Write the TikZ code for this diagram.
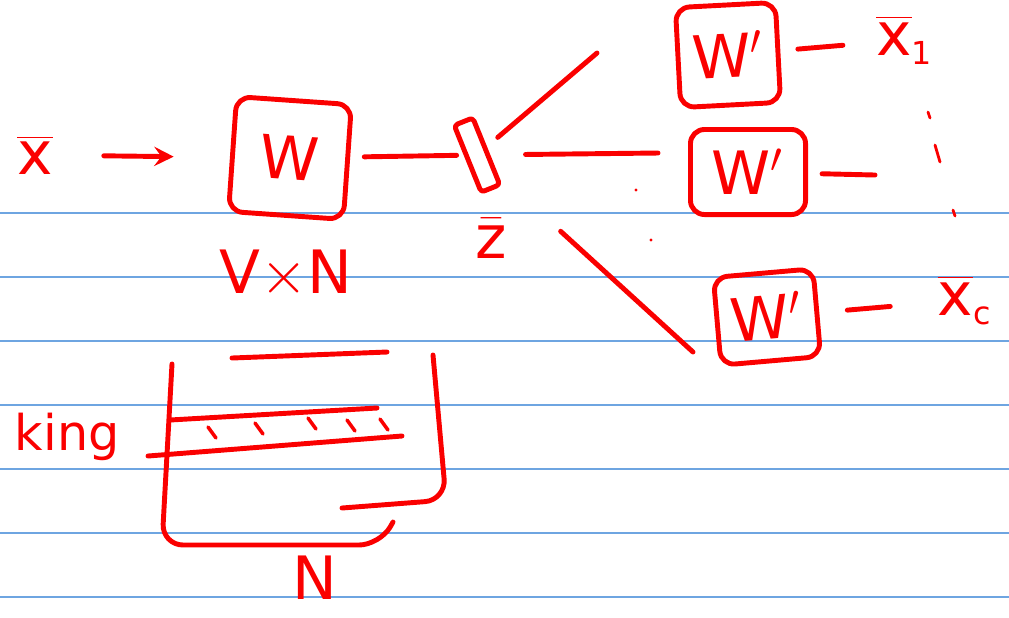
\documentclass[tikz,border=0pt]{standalone}
\usepackage{fontspec}
\setmainfont{DejaVu Sans}
\usetikzlibrary{positioning}
\definecolor{inkred}{RGB}{250,0,0}
\definecolor{rulecol}{RGB}{110,165,225}
\begin{document}
\begin{tikzpicture}[x=0.01cm,y=-0.01cm,>=stealth, line join=round, line cap=round,
    ink/.style={draw=inkred, line width=1.4pt},
    lbl/.style={text=inkred, font=\fontsize{17}{19}\selectfont},
    mat/.style={ink, lbl, rounded corners=4pt, inner sep=0pt}]
  \useasboundingbox (0,0) rectangle (1009,617);
  % ruled paper
  \foreach \y in {213,277,...,597} \draw[rulecol, line width=0.5pt] (0,\y) -- (1009,\y);

  % input, encoder, hidden
  \node[lbl] (xin) at (35,155) {$\overline{\mbox{x}}$};
  \node[mat, minimum width=1.15cm, minimum height=1.15cm, rotate=-4] (enc) at (290,158) {W};
  \node[lbl, below=0.2cm of enc] (dims) {V$\times$N};
  \node[mat, rounded corners=1pt, minimum width=0.2cm, minimum height=0.72cm, rotate=22] (hid) at (477,155) {};
  \node[lbl, below=0.15cm of hid] (zlbl) {$\bar{\mbox{z}}$};

  % output side
  \node[mat, minimum width=1.0cm, minimum height=1.0cm, rotate=3] (dec1) at (728,55) {W$'$};
  \node[mat, minimum width=1.15cm, minimum height=0.85cm] (dec2) at (748,172) {W$'$};
  \node[mat, minimum width=1.0cm, minimum height=0.88cm, rotate=5] (dec3) at (767,317) {W$'$};
  \node[lbl] (out1) at (905,40) {$\overline{\mbox{x}}_{\mbox{\small 1}}$};
  \node[lbl] (outc) at (965,300) {$\overline{\mbox{x}}_{\mbox{\small c}}$};
  \coordinate (b1) at (597,53);
  \coordinate (b2) at (658,153);
  \coordinate (b3) at (693,352);
  \coordinate (e2) at (875,175);

  \draw[ink,->, shorten <=11pt, shorten >=16pt] (xin) -- (enc);
  \draw[ink, shorten <=4pt, shorten >=2pt] (enc) -- (hid);
  \draw[ink, shorten <=4pt] (hid) -- (b1);
  \draw[ink, shorten <=10pt] (hid) -- (b2);
  \draw[ink, shorten <=24pt] (hid) -- (b3);
  \draw[ink, shorten <=5pt, shorten >=6pt] (dec1) -- (out1);
  \draw[ink, shorten <=4pt] (dec2) -- (e2);
  \draw[ink, shorten <=8pt, shorten >=10pt] (dec3) -- (outc);

  % dots
  \foreach \p in {(636,190),(651,240)} \fill[inkred] \p circle (1.6);
  \draw[ink, line width=0.8pt] (928,112) -- (930,118) (935,145) -- (940,162) (953,210) -- (955,216);

  % embedding matrix
  \draw[ink, rounded corners=6pt] (172,364) -- (162,545) -- (380,545) -- (393,522);
  \draw[ink] (232,358) -- (387,352);
  \draw[ink, rounded corners=6pt] (433,355) -- (446,500) -- (342,508);
  \draw[ink] (170,420) -- (377,408);
  \draw[ink] (148,456) -- (402,436);
  \foreach \a/\b in {208/427,255/423,308/418,347/420,380/419}
    \draw[ink, line width=1pt] (\a,\b) -- ++(8,11);
  \node[lbl, font=\fontsize{14}{16}\selectfont, anchor=east] (word) at (132,437) {king};
  \node[lbl] (nlbl) at (315,578) {N};
\end{tikzpicture}
\end{document}
